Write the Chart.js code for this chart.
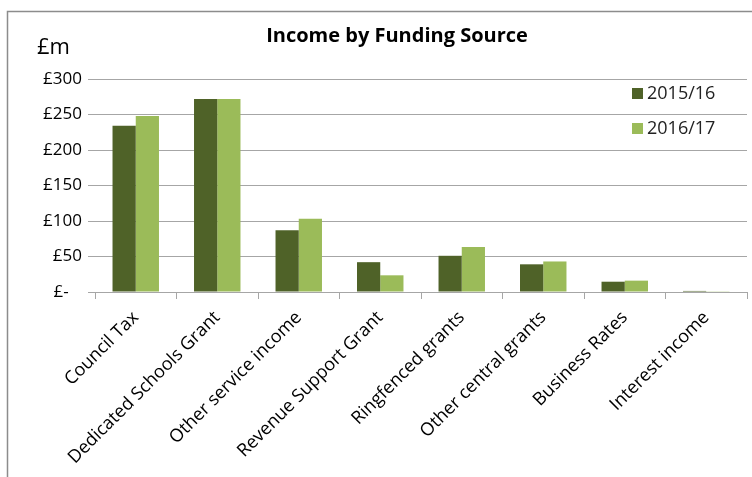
<!DOCTYPE html>
<html>
<head>
<meta charset="utf-8">
<script src="https://cdn.jsdelivr.net/npm/chart.js@4/dist/chart.umd.min.js"></script>
<style>
  html, body { margin: 0; padding: 0; background: #fff; }
  #wrap { width: 752px; height: 477px; position: relative; }
</style>
</head>
<body>
<div id="wrap"><canvas id="incomeChart"></canvas></div>
<script>
const categories = ['Council Tax', 'Dedicated Schools Grant', 'Other service income', 'Revenue Support Grant',
  'Ringfenced grants', 'Other central grants', 'Business Rates', 'Interest income'];
const income1516 = [234, 272, 87, 42, 51, 39, 14.5, 1.5];
const income1617 = [248, 272, 103, 23.5, 63.5, 43, 16, 1];
const seriesLabels = ['2015/16', '2016/17'];
const yTicks = [0, 50, 100, 150, 200, 250, 300];
const chartTitle = 'Income by Funding Source';

const FONT = "'Open Sans', sans-serif";

// frame, title, "£m" unit and the legend are drawn by hand, like the Excel original
const decor = {
  id: 'decor',
  beforeDraw(chart) {
    const c = chart.ctx;
    c.save();
    c.fillStyle = '#fff';
    c.fillRect(0, 0, chart.width, chart.height);
    c.strokeStyle = '#8c8c8c';
    c.lineWidth = 1.5;
    c.strokeRect(7.5, 11.5, 800, 520);
    c.restore();
  },
  afterDraw(chart) {
    const c = chart.ctx;
    c.save();
    c.textBaseline = 'middle';
    c.fillStyle = '#000';
    c.font = "bold 20px " + FONT;
    c.textAlign = 'center';
    c.fillText(chartTitle, 397, 36);
    c.textAlign = 'left';
    c.font = "22px " + FONT;
    c.fillText('£m', 37, 48);
    c.font = "18px " + FONT;
    chart.data.datasets.forEach((ds, i) => {
      const y = 94 + i * 35;
      c.fillStyle = ds.backgroundColor;
      c.fillRect(632, y - 6, 11, 11);
      c.fillStyle = '#222';
      c.fillText(ds.label, 647, y);
    });
    c.restore();
  }
};

new Chart(document.getElementById('incomeChart'), {
  type: 'bar',
  data: {
    labels: categories,
    datasets: [
      { label: seriesLabels[0], data: income1516, backgroundColor: '#4f6228' },
      { label: seriesLabels[1], data: income1617, backgroundColor: '#9bbb59' }
    ]
  },
  options: {
    responsive: true,
    maintainAspectRatio: false,
    animation: false,
    layout: { padding: { top: 79, right: 5, left: 0, bottom: 0 } },
    datasets: { bar: { categoryPercentage: 0.57, barPercentage: 1.0 } },
    plugins: {
      legend: { display: false },
      tooltip: { enabled: false },
      title: { display: false }
    },
    scales: {
      x: {
        grid: { drawOnChartArea: false, drawTicks: true, tickLength: 7, color: '#a6a6a6', offset: true },
        border: { color: '#a6a6a6' },
        ticks: {
          color: '#000',
          minRotation: 45,
          maxRotation: 45,
          padding: 8,
          font: { family: FONT, size: 18 }
        },
        afterFit(scale) { scale.height = 185; }
      },
      y: {
        min: 0,
        max: 300,
        afterBuildTicks(scale) { scale.ticks = yTicks.map(v => ({ value: v })); },
        grid: { color: '#a6a6a6', tickLength: 7 },
        border: { display: false },
        ticks: {
          color: '#000',
          padding: 6,
          font: { family: FONT, size: 17 },
          callback: v => v === 0 ? '£-   ' : '£' + v
        },
        afterFit(scale) { scale.width = 95; }
      }
    }
  },
  plugins: [decor]
});
</script>
</body>
</html>
